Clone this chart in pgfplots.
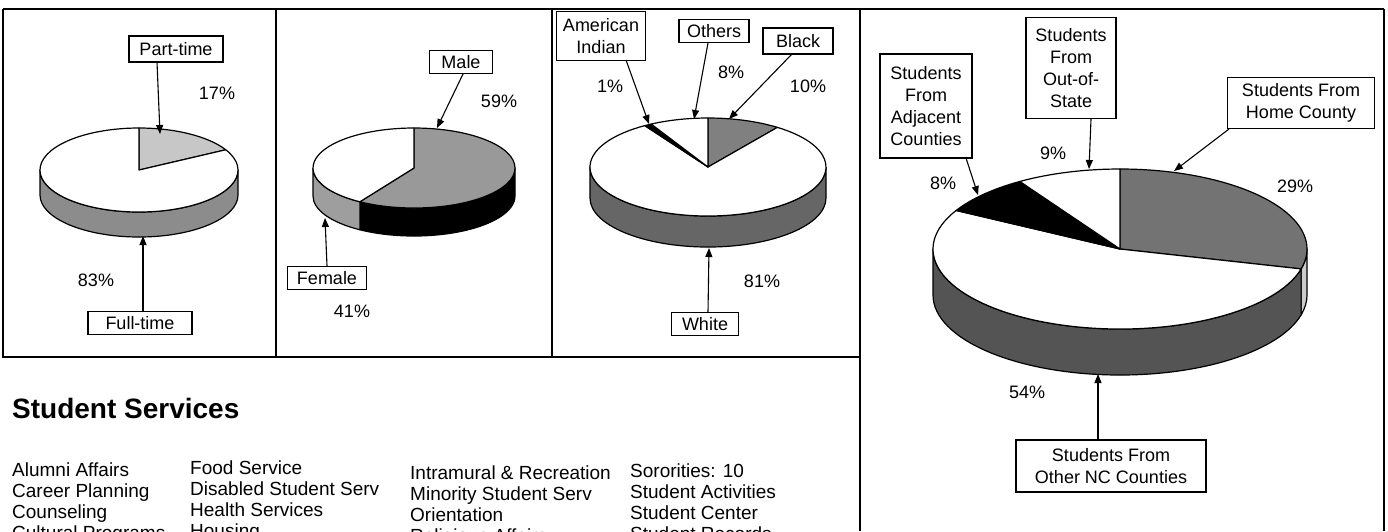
\documentclass[border=0pt]{standalone}
\usepackage{pgfplots}
\pgfplotsset{compat=1.18}
\usepackage{fontspec}
\setmainfont{Liberation Sans}
\usetikzlibrary{arrows.meta}

\newcommand{\lab}{\fontsize{18}{22}\selectfont}
\newcommand{\lst}{\fontsize{19}{21}\selectfont}
\newcommand{\hd}{\fontsize{28}{32}\selectfont\bfseries}

\definecolor{ptTop}{gray}{0.78}
\definecolor{ftSide}{gray}{0.55}
\definecolor{mTop}{gray}{0.60}
\definecolor{fSide}{gray}{0.62}
\definecolor{bTop}{gray}{0.50}
\definecolor{wSide}{gray}{0.40}
\definecolor{hTop}{gray}{0.45}
\definecolor{hSide}{gray}{0.80}
\definecolor{oSide}{gray}{0.33}

% Top face of a slice: cx cy a b cumStart(%) cumEnd(%) colour
\newcommand{\PieTop}[7]{%
  \filldraw[fill=#7,draw=black,line width=1.2pt,line join=round]
   (axis cs:#1,#2) -- (axis cs:{#1+#3*cos(90-3.6*#5)},{#2+#4*sin(90-3.6*#5)})
   arc[start angle={90-3.6*#5}, end angle={90-3.6*#6}, x radius=#3pt, y radius=#4pt] -- cycle;}
% Visible side wall: cx cy a b depth angleStart angleEnd colour
\newcommand{\PieSide}[8]{%
  \filldraw[fill=#8,draw=black,line width=1.2pt,line join=round]
   (axis cs:{#1+#3*cos(#6)},{#2+#4*sin(#6)})
   arc[start angle={#6}, end angle={#7}, x radius=#3pt, y radius=#4pt]
   -- ++(0pt,-#5pt)
   arc[start angle={#7}, end angle={#6}, x radius=#3pt, y radius=#4pt] -- cycle;}

\tikzset{lbl/.style={draw=black, fill=white, line width=1.1pt, font=\lab, align=center, inner sep=0pt},
         pct/.style={font=\lab, inner sep=0pt},
         arr/.style={line width=1.1pt, -{Triangle[length=9pt,width=7pt]}},
         fr/.style={line width=1.4pt},
         li/.style={font=\lst, anchor=base west, inner sep=0pt}}

\begin{document}
\begin{tikzpicture}
\useasboundingbox (0,0) rectangle (1388pt,-531pt);
\clip (0,0) rectangle (1388pt,-531pt);
\begin{axis}[
  at={(0pt,0pt)}, anchor=origin,
  x=1pt, y=1pt, xmin=0, xmax=1388, ymin=-531, ymax=0,
  hide axis, clip=false, disabledatascaling]

% ---- frames
\draw[fr] (axis cs:3,-9) -- (axis cs:1384,-9);
\draw[fr] (axis cs:3,-9) -- (axis cs:3,-357) -- (axis cs:860,-357);
\draw[fr] (axis cs:276,-9) -- (axis cs:276,-357);
\draw[fr] (axis cs:552,-9) -- (axis cs:552,-357);
\draw[fr] (axis cs:860,-9) -- (axis cs:860,-531);
\draw[fr] (axis cs:1384,-9) -- (axis cs:1384,-531);

% ---- Pie 1: Part-time 17, Full-time 83
\PieSide{139}{-170}{99}{42}{25}{0}{-180}{ftSide}
\PieTop{139}{-170}{99}{42}{0}{17}{ptTop}
\PieTop{139}{-170}{99}{42}{17}{100}{white}
\node[lbl, minimum width=94pt, minimum height=26pt] at (axis cs:176,-49) {Part-time};
\draw[arr] (axis cs:157,-62) -- (axis cs:160,-134);
\node[pct] at (axis cs:217,-93) {17\%};
\node[pct] at (axis cs:96,-280) {83\%};
\node[lbl, minimum width=104pt, minimum height=23pt] at (axis cs:140,-323) {Full-time};
\draw[arr] (axis cs:143,-311) -- (axis cs:143,-236);

% ---- Pie 2: Male 59, Female 41
\PieSide{414}{-168}{101}{40}{28}{0}{90-3.6*59}{black}
\PieSide{414}{-168}{101}{40}{28}{90-3.6*59}{-180}{fSide}
\PieTop{414}{-168}{101}{40}{0}{59}{mTop}
\PieTop{414}{-168}{101}{40}{59}{100}{white}
\node[lbl, minimum width=63pt, minimum height=23pt] at (axis cs:461,-62) {Male};
\draw[arr] (axis cs:463,-74) -- (axis cs:437,-128);
\node[pct] at (axis cs:499,-101) {59\%};
\node[lbl, minimum width=79pt, minimum height=23pt] at (axis cs:327,-278) {Female};
\draw[arr] (axis cs:327,-266) -- (axis cs:325,-218);
\node[pct] at (axis cs:352,-311) {41\%};

% ---- Pie 3: Black 10, White 81, American Indian 1, Others 8
\PieSide{708}{-167}{118}{49}{31}{0}{-180}{wSide}
\PieTop{708}{-167}{118}{49}{0}{10}{bTop}
\PieTop{708}{-167}{118}{49}{10}{91}{white}
\PieTop{708}{-167}{118}{49}{91}{92}{black}
\PieTop{708}{-167}{118}{49}{92}{100}{white}
\node[lbl, minimum width=89pt, minimum height=49pt] at (axis cs:601,-36) {American\\Indian};
\draw[arr] (axis cs:626,-60) -- (axis cs:649,-124);
\node[lbl, minimum width=70pt, minimum height=23pt] at (axis cs:714,-31) {Others};
\draw[arr] (axis cs:708,-43) -- (axis cs:694,-119);
\node[lbl, minimum width=70pt, minimum height=26pt] at (axis cs:798,-41) {Black};
\draw[arr] (axis cs:792,-54) -- (axis cs:729,-119);
\node[pct] at (axis cs:610,-86) {1\%};
\node[pct] at (axis cs:731,-72) {8\%};
\node[pct] at (axis cs:808,-86) {10\%};
\node[pct] at (axis cs:762,-281) {81\%};
\node[lbl, minimum width=67pt, minimum height=23pt] at (axis cs:705,-324) {White};
\draw[arr] (axis cs:708,-312) -- (axis cs:709,-248);

% ---- Pie 4: Home County 29, Other NC 54, Adjacent 8, Out-of-State 9
\PieSide{1120}{-249}{187}{80}{46}{0}{90-3.6*29}{hSide}
\PieSide{1120}{-249}{187}{80}{46}{90-3.6*29}{-180}{oSide}
\PieTop{1120}{-249}{187}{80}{0}{29}{hTop}
\PieTop{1120}{-249}{187}{80}{29}{83}{white}
\PieTop{1120}{-249}{187}{80}{83}{91}{black}
\PieTop{1120}{-249}{187}{80}{91}{100}{white}
\node[lbl, minimum width=92pt, minimum height=104pt] at (axis cs:926,-106) {Students\\From\\Adjacent\\Counties};
\draw[arr] (axis cs:966,-158) -- (axis cs:978,-195);
\node[lbl, minimum width=90pt, minimum height=101pt] at (axis cs:1071,-68) {Students\\From\\Out-of-\\State};
\draw[arr] (axis cs:1091,-119) -- (axis cs:1089,-169);
\node[lbl, minimum width=147pt, minimum height=51pt] at (axis cs:1301,-103) {Students From\\Home County};
\draw[arr] (axis cs:1229,-129) -- (axis cs:1174,-171);
\node[lbl, minimum width=190pt, minimum height=52pt] at (axis cs:1111,-466) {Students From\\Other NC Counties};
\draw[arr] (axis cs:1098,-440) -- (axis cs:1098,-374);
\node[pct] at (axis cs:943,-183) {8\%};
\node[pct] at (axis cs:1053,-153) {9\%};
\node[pct] at (axis cs:1295,-186) {29\%};
\node[pct] at (axis cs:1027,-392) {54\%};

% ---- Student Services
\node[font=\hd, anchor=base west, inner sep=0pt] at (axis cs:12,-418) {Student Services};
\node[li] at (axis cs:12,-476) {Alumni Affairs};
\node[li] at (axis cs:12,-497) {Career Planning};
\node[li] at (axis cs:12,-518) {Counseling};
\node[li] at (axis cs:12,-539) {Cultural Programs};
\node[li] at (axis cs:190,-474) {Food Service};
\node[li] at (axis cs:190,-495) {Disabled Student Serv};
\node[li] at (axis cs:190,-516) {Health Services};
\node[li] at (axis cs:190,-537) {Housing};
\node[li] at (axis cs:410,-479) {Intramural \& Recreation};
\node[li] at (axis cs:410,-500) {Minority Student Serv};
\node[li] at (axis cs:410,-521) {Orientation};
\node[li] at (axis cs:410,-542) {Religious Affairs};
\node[li] at (axis cs:630,-477) {Sororities: 10};
\node[li] at (axis cs:630,-498) {Student Activities};
\node[li] at (axis cs:630,-519) {Student Center};
\node[li] at (axis cs:630,-540) {Student Records};
\end{axis}
\end{tikzpicture}
\end{document}
